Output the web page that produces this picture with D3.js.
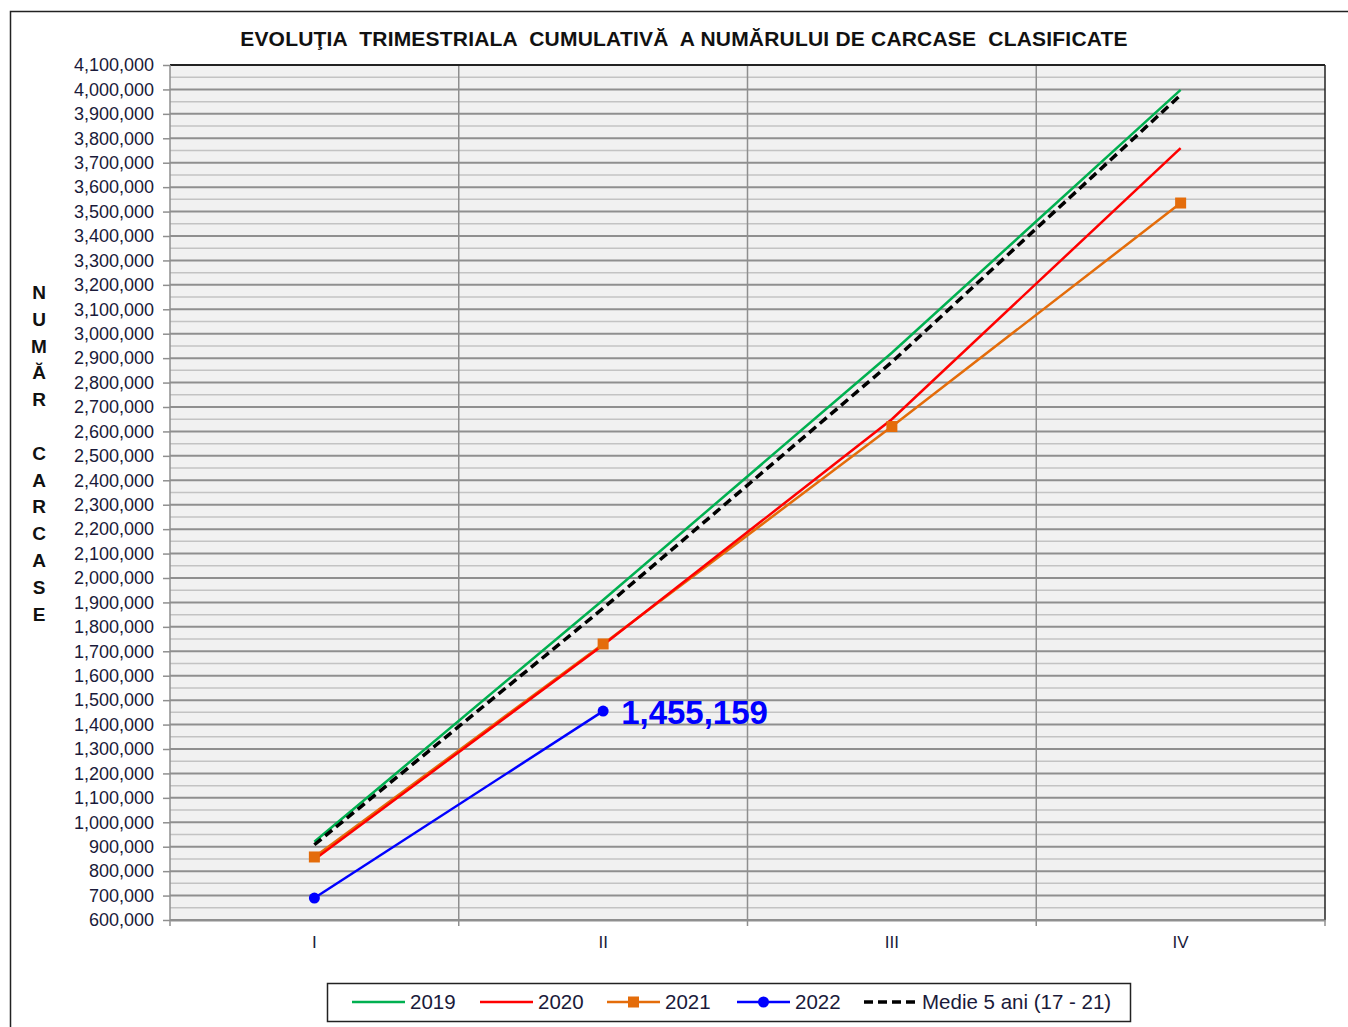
<!DOCTYPE html>
<html><head><meta charset="utf-8">
<script src="https://cdn.jsdelivr.net/npm/d3@7/dist/d3.min.js"></script>
<style>body{margin:0;background:#fff}svg{display:block}</style>
</head><body>
<script>
const categories = ["I","II","III","IV"];
const s2019 = [920000, 1910000, 2922000, 3998000];
const s2020 = [848000, 1726000, 2650000, 3760000];
const s2021 = [858000, 1730000, 2620000, 3535000];
const s2022 = [690000, 1455159];
const sMedie = [908000, 1876000, 2884000, 3977000];
const seriesNames = ["2019","2020","2021","2022","Medie 5 ani (17 - 21)"];
const seriesColors = ["#00b050","#ff0000","#e46c0a","#0000ff","#000000"];
const title = "EVOLUŢIA  TRIMESTRIALA  CUMULATIVĂ  A NUMĂRULUI DE CARCASE  CLASIFICATE";
const yTitle = ["N","U","M","Ă","R","","C","A","R","C","A","S","E"];
const yMin = 600000, yMax = 4100000;

const W = 1348, H = 1027;
const svg = d3.select("body").append("svg").attr("width", W).attr("height", H)
  .style("font-family", "Arial, 'Liberation Sans', sans-serif");

// outer border
svg.append("rect").attr("x", 10.5).attr("y", 11.5).attr("width", 1400).attr("height", 1100)
  .attr("fill", "none").attr("stroke", "#222").attr("stroke-width", 1.5);

const L = 170, R = 1325, T = 65, B = 920;
const x = d3.scaleBand().domain(categories).range([L, R]);
const y = d3.scaleLinear().domain([yMin, yMax]).range([B, T]);

svg.append("rect").attr("x", L).attr("y", T).attr("width", R - L).attr("height", B - T).attr("fill", "#f1f1f1");

// minor gridlines
const minor = d3.range(yMin + 50000, yMax, 100000);
svg.append("g").selectAll("line").data(minor).join("line")
  .attr("x1", L).attr("x2", R).attr("y1", d => y(d)).attr("y2", d => y(d))
  .attr("stroke", "#c3c3c3").attr("stroke-width", 1.5);
const major = d3.range(yMin, yMax + 1, 100000);
svg.append("g").selectAll("line").data(major).join("line")
  .attr("x1", L).attr("x2", R).attr("y1", d => y(d)).attr("y2", d => y(d))
  .attr("stroke", "#8f8f8f").attr("stroke-width", 2);

// vertical gridlines at category boundaries
const bounds = categories.map(c => x(c)).concat([R]);
svg.append("g").selectAll("line").data(bounds.slice(1, -1)).join("line")
  .attr("x1", d => d).attr("x2", d => d).attr("y1", T).attr("y2", B)
  .attr("stroke", "#8f8f8f").attr("stroke-width", 1.5);

// borders
svg.append("line").attr("x1", L).attr("x2", R).attr("y1", T).attr("y2", T).attr("stroke", "#222").attr("stroke-width", 2);
svg.append("line").attr("x1", R).attr("x2", R).attr("y1", T).attr("y2", B).attr("stroke", "#222").attr("stroke-width", 1.5);
svg.append("line").attr("x1", L).attr("x2", L).attr("y1", T).attr("y2", B).attr("stroke", "#8f8f8f").attr("stroke-width", 1.5);

// y axis
const yAxis = d3.axisLeft(y).tickValues(major).tickFormat(d3.format(",")).tickSize(7).tickPadding(9);
const gy = svg.append("g").attr("transform", `translate(${L},0)`).call(yAxis);
gy.select(".domain").remove();
gy.selectAll("line").attr("stroke", "#8f8f8f").attr("stroke-width", 1.5);
gy.selectAll("text").attr("font-size", 18).attr("fill", "#1a1a3a").attr("font-family", "Arial, 'Liberation Sans', sans-serif");

// x axis
const xAxis = d3.axisBottom(x).tickSize(0).tickPadding(16);
const gx = svg.append("g").attr("transform", `translate(0,${B})`).call(xAxis);
gx.select(".domain").attr("stroke", "#8f8f8f").attr("stroke-width", 2);
gx.selectAll("text").attr("font-size", 17).attr("fill", "#1a1a3a").attr("font-family", "Arial, 'Liberation Sans', sans-serif");
svg.append("g").selectAll("line").data(bounds).join("line")
  .attr("x1", d => d).attr("x2", d => d).attr("y1", B).attr("y2", B + 6)
  .attr("stroke", "#8f8f8f").attr("stroke-width", 1.5);

const cx = c => x(c) + x.bandwidth() / 2;
const line = d3.line().x((d, i) => cx(categories[i])).y(d => y(d));
const plot = svg.append("g");

// draw order: 2021 then 2020 on top, as in reference (red over orange)
[[0, s2019], [2, s2021], [1, s2020], [3, s2022], [4, sMedie]].forEach(([k, vals]) => {
  plot.append("path").datum(vals).attr("d", line).attr("fill", "none")
    .attr("stroke", seriesColors[k]).attr("stroke-width", k === 4 ? 3.5 : 2.5)
    .attr("stroke-dasharray", k === 4 ? "9,5" : null);
});
// markers 2021 squares
plot.append("g").selectAll("rect").data(s2021).join("rect")
  .attr("x", (d, i) => cx(categories[i]) - 5.5).attr("y", d => y(d) - 5.5)
  .attr("width", 11).attr("height", 11).attr("fill", seriesColors[2]);
// markers 2022 dots
plot.append("g").selectAll("circle").data(s2022).join("circle")
  .attr("cx", (d, i) => cx(categories[i])).attr("cy", d => y(d)).attr("r", 5.5)
  .attr("fill", seriesColors[3]);
// data label
svg.append("text").attr("x", cx(categories[1]) + 18).attr("y", y(s2022[1]) + 13)
  .attr("font-size", 33).attr("font-weight", "bold").attr("fill", "#0000ff")
  .text(d3.format(",")(s2022[1]));

// title
svg.append("text").attr("x", 684).attr("y", 46).attr("text-anchor", "middle")
  .attr("font-size", 21).attr("font-weight", "bold").attr("fill", "#111")
  .attr("letter-spacing", 0.2)
  .attr("xml:space", "preserve").style("white-space", "pre").text(title);

// y title stacked letters
svg.append("g").selectAll("text").data(yTitle).join("text")
  .attr("x", 39).attr("y", (d, i) => 299 + i * 26.8).attr("text-anchor", "middle")
  .attr("font-size", 19).attr("font-weight", "bold").attr("fill", "#111").text(d => d);

// legend
const lg = svg.append("g").style("font-family", "Arial, 'Liberation Sans', sans-serif");
lg.append("rect").attr("x", 327.5).attr("y", 983.5).attr("width", 803).attr("height", 38)
  .attr("fill", "#fff").attr("stroke", "#222").attr("stroke-width", 1.5);
const legX = [352, 480, 607, 737, 864];
seriesNames.forEach((n, k) => {
  const x0 = legX[k], yy = 1002;
  lg.append("line").attr("x1", x0).attr("x2", x0 + 53).attr("y1", yy).attr("y2", yy)
    .attr("stroke", seriesColors[k]).attr("stroke-width", k === 4 ? 3.5 : 2.5)
    .attr("stroke-dasharray", k === 4 ? "9,5" : null);
  if (k === 2) lg.append("rect").attr("x", x0 + 21).attr("y", yy - 5.5).attr("width", 11).attr("height", 11).attr("fill", seriesColors[2]);
  if (k === 3) lg.append("circle").attr("cx", x0 + 26.5).attr("cy", yy).attr("r", 5.5).attr("fill", seriesColors[3]);
  lg.append("text").attr("x", x0 + 58).attr("y", yy + 7).attr("font-size", 20.5)
    .attr("fill", "#1a1a3a").text(n);
});
</script>
</body></html>
